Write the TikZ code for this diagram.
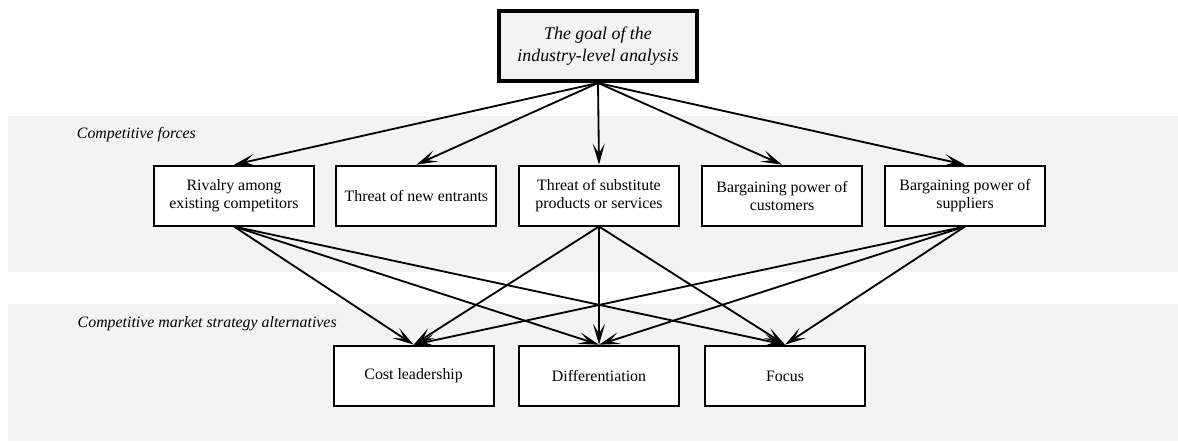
\documentclass[tikz,border=0pt]{standalone}
\usepackage{fontspec}
\setmainfont{Liberation Serif}
\usepackage{tikz}
\usepackage{xcolor}
\usetikzlibrary{positioning,arrows.meta}
\definecolor{bandgray}{RGB}{242,243,242}

\begin{document}
\begin{tikzpicture}[draw=black, line width=1.3pt]
	\tikzstyle{box}=[rectangle,draw=black,line width=1.3pt,fill=white,align=center,inner sep=2pt,font=\fontsize{11.3}{12.8}\selectfont]
	\tikzstyle{force box}=[box,minimum width=4cm,minimum height=1.5cm]
	\tikzstyle{strategy box}=[box,minimum width=4cm,minimum height=1.52cm]
	\tikzstyle{goal box}=[box,fill=bandgray,line width=2.8pt,minimum width=4.95cm,minimum height=1.75cm,font=\fontsize{12.7}{15.6}\selectfont\itshape]
	\tikzstyle{band}=[fill=bandgray,draw=none]
	\tikzstyle{annot}=[anchor=west,inner sep=0pt,font=\fontsize{11.3}{13}\selectfont\itshape]
	\tikzstyle{edge}=[-{Stealth[length=15pt,width=8.5pt,inset=7pt]},line width=1.3pt]

	\useasboundingbox (0,0) rectangle (29.45,-11.025);

	% shaded bands behind the two rows
	\fill[band] (0.2,-2.9) rectangle (29.45,-6.79);
	\fill[band] (0.2,-7.6) rectangle (29.45,-11.025);
	\node[annot] (forcesLabel) at (1.9,-3.37) {Competitive forces};
	\node[annot] (strategyLabel) at (1.92,-8.1) {Competitive market strategy alternatives};

	\node[goal box] (goal) at (14.95,-1.15) {The goal of the\\industry-level analysis};

	\node[force box] (rivalry) at (5.85,-4.89) {Rivalry among\\existing competitors};
	\node[force box] (entrants) at (10.41,-4.89) {Threat of new entrants};
	\node[force box] (substitutes) at (14.975,-4.89) {Threat of substitute\\products or services};
	\node[force box] (customers) at (19.55,-4.89) {Bargaining power of\\customers};
	\node[force box] (suppliers) at (24.125,-4.89) {Bargaining power of\\suppliers};

	\node[strategy box] (cost) at (10.34,-9.4) {Cost leadership};
	\node[strategy box] (diff) at (14.975,-9.4) {Differentiation};
	\node[strategy box] (focus) at (19.625,-9.4) {Focus};

	% goal down to the five forces
	\draw[edge] (goal.south) -- (rivalry.north);
	\draw[edge] (goal.south) -- (entrants.north);
	\draw[edge] (goal.south) -- (substitutes.north);
	\draw[edge] (goal.south) -- (customers.north);
	\draw[edge] (goal.south) -- (suppliers.north);

	% forces down to the strategies
	\draw[edge] (rivalry.south) -- (cost.north);
	\draw[edge] (rivalry.south) -- (diff.north);
	\draw[edge] (rivalry.south) -- (focus.north);
	\draw[edge] (substitutes.south) -- (cost.north);
	\draw[edge] (substitutes.south) -- (diff.north);
	\draw[edge] (substitutes.south) -- (focus.north);
	\draw[edge] (suppliers.south) -- (cost.north);
	\draw[edge] (suppliers.south) -- (diff.north);
	\draw[edge] (suppliers.south) -- (focus.north);
\end{tikzpicture}
\end{document}
